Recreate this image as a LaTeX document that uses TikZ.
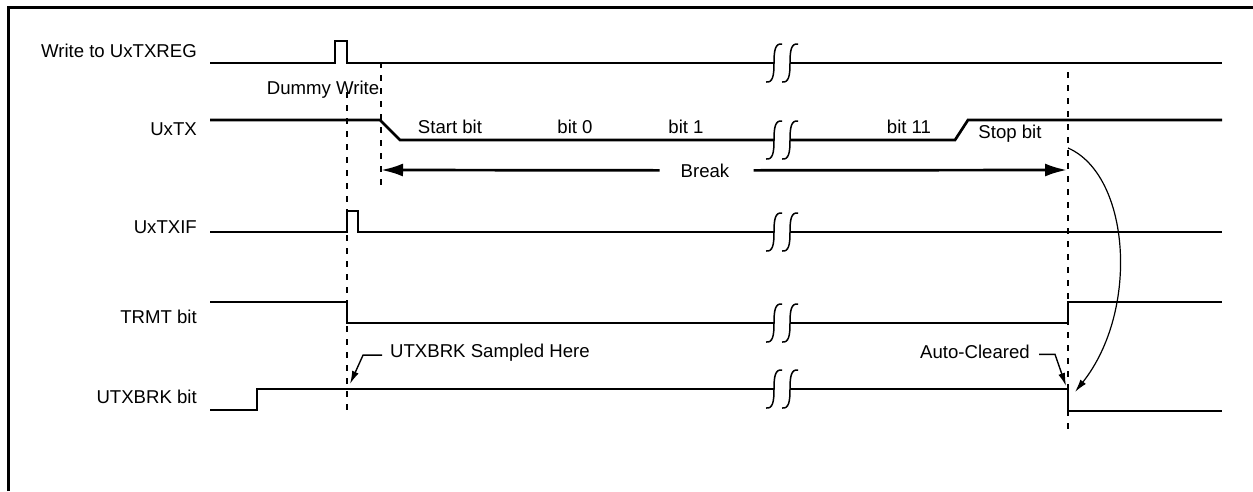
\documentclass[tikz,border=0pt]{standalone}
\usepackage{fontspec}
\setmainfont{Liberation Sans}
\usetikzlibrary{arrows.meta}
\newcommand\brkmark[2]{%
  \foreach \dx in {0,16} {%
    \draw[brkS] ({#1+\dx-8},{#2+19}) .. controls ({#1+\dx-1},{#2+20}) and ({#1+\dx},{#2+12}) .. ({#1+\dx},{#2})
      .. controls ({#1+\dx},{#2-12}) and ({#1+\dx+1},{#2-20}) .. ({#1+\dx+8},{#2-19});}}
\begin{document}
\begin{tikzpicture}[x=1pt,y=-1pt,
  sig/.style={line width=2.7pt},
  vdash/.style={line width=2.4pt,dash pattern=on 6pt off 7pt},
  txt/.style={font=\fontsize{18.6}{22}\selectfont,inner sep=0pt},
  brkS/.style={line width=1.5pt},
  bigarrow/.style={line width=2.7pt,-{Latex[length=22pt,width=13pt]}},
  smallarrow/.style={line width=1.4pt,-{Latex[length=13pt,width=7pt]}}]
\useasboundingbox (0,0) rectangle (1253,491);
\draw[line width=3pt] (8,491) -- (8,7) -- (1253,7);
% labels
\node[txt,anchor=base east] (lw) at (197,57) {Write to UxTXREG};
\node[txt,anchor=base east] (ltx) at (197,135) {UxTX};
\node[txt,anchor=base east] (lif) at (197,233) {UxTXIF};
\node[txt,anchor=base east] (ltr) at (197,323) {TRMT bit};
\node[txt,anchor=base east] (lbk) at (197,403) {UTXBRK bit};
% dashed markers
\draw[vdash] (347,92) -- (347,410);
\draw[vdash] (381,62) -- (381,187);
\draw[vdash] (1068,72) -- (1068,432);
% Write to UxTXREG
\draw[sig] (210,63) -- (335,63) -- (335,41) -- (347,41) -- (347,63) -- (774,63);
\draw[sig] (790,63) -- (1222,63);
\brkmark{774}{63}
% UxTX
\draw[sig] (210,120) -- (380,120) -- (400,140) -- (774,140);
\draw[sig] (790,140) -- (955,140) -- (968,120) -- (1222,120);
\brkmark{774}{140}
% UxTXIF
\draw[sig] (210,232) -- (347,232) -- (347,211) -- (358,211) -- (358,232) -- (774,232);
\draw[sig] (790,232) -- (1222,232);
\brkmark{774}{232}
% TRMT
\draw[sig] (210,302) -- (347,302) -- (347,323) -- (774,323);
\draw[sig] (790,323) -- (1068,323) -- (1068,302) -- (1222,302);
\brkmark{774}{323}
% UTXBRK
\draw[sig] (210,410) -- (257,410) -- (257,389) -- (774,389);
\draw[sig] (790,389) -- (1068,389) -- (1068,411) -- (1222,411);
\brkmark{774}{389}
% texts
\node[txt,anchor=base] (dw) at (323,94) {Dummy Write};
\node[txt,anchor=base] (sb) at (450,133) {Start bit};
\node[txt,anchor=base] (b0) at (575,133) {bit 0};
\node[txt,anchor=base] (b1) at (686,133) {bit 1};
\node[txt,anchor=base] (b11) at (909,133) {bit 11};
\node[txt,anchor=base] (stb) at (1010,138) {Stop bit};
\node[txt,anchor=base] (brk) at (705,177) {Break};
\node[txt,anchor=base west] (samp) at (390,357) {UTXBRK Sampled Here};
\node[txt,anchor=base east] (auto) at (1030,358) {Auto-Cleared};
% Break arrows
\coordinate (bl) at (381,170);
\coordinate (br) at (1067,170);
\draw[bigarrow] ([xshift=-21pt]brk.west) -- (bl);
\draw[bigarrow] ([xshift=24pt]brk.east) -- (br);
% leaders
\coordinate (sampTip) at (350,384);
\coordinate (autoTip) at (1066,386);
\draw[smallarrow] ([xshift=-8pt,yshift=-3pt]samp.west) -- ++(-19,0) -- (sampTip);
\draw[smallarrow] ([xshift=9pt,yshift=-3pt]auto.east) -- ++(16,0) -- (autoTip);
% curved arrow
\coordinate (cs) at (1068,148);
\coordinate (ce) at (1075,392);
\draw[smallarrow,line width=1.2pt] (cs) .. controls (1130,175) and (1140,310) .. (ce);
\end{tikzpicture}
\end{document}
